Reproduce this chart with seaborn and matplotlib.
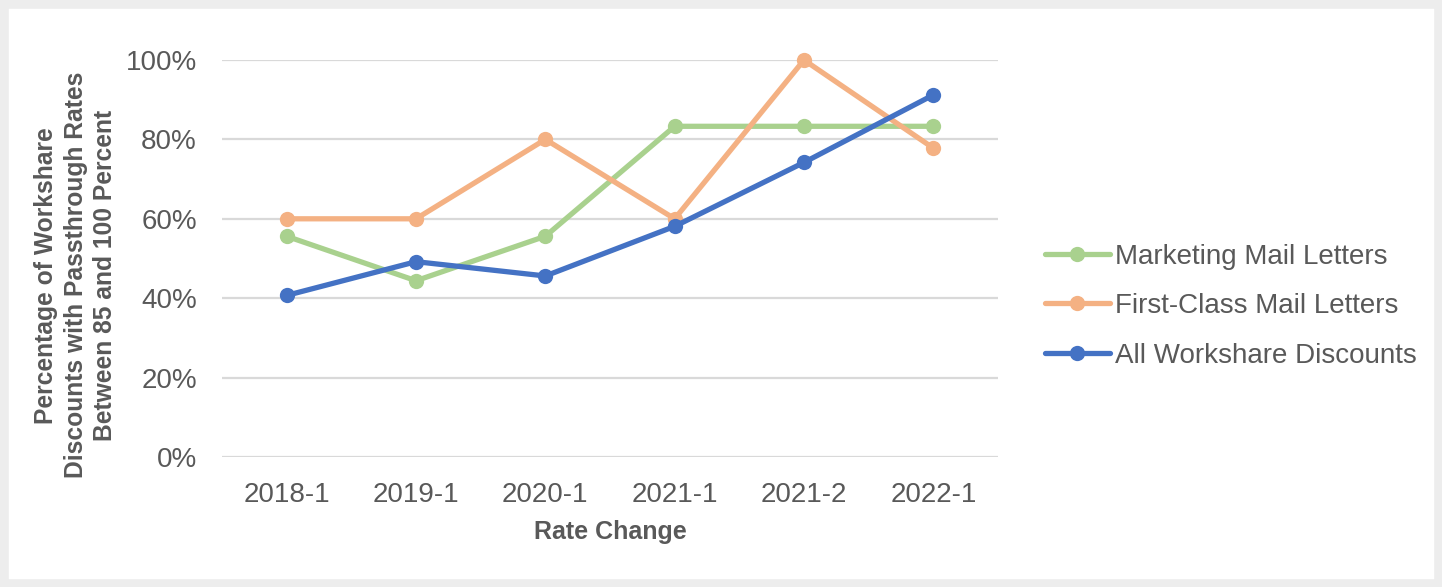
import matplotlib
matplotlib.use("Agg")
import matplotlib.pyplot as plt
import seaborn as sns
import pandas as pd
from matplotlib.patches import Rectangle
from matplotlib.ticker import PercentFormatter

categories = ["2018-1", "2019-1", "2020-1", "2021-1", "2021-2", "2022-1"]
marketing = [0.556, 0.444, 0.556, 0.833, 0.833, 0.833]
first_class = [0.60, 0.60, 0.80, 0.60, 1.00, 0.778]
all_workshare = [0.407, 0.492, 0.456, 0.581, 0.742, 0.912]
series_names = ["Marketing Mail Letters", "First-Class Mail Letters", "All Workshare Discounts"]
colors = ["#A9D18E", "#F4B183", "#4472C4"]

rows = []
for name, vals in zip(series_names, [marketing, first_class, all_workshare]):
    for c, v in zip(categories, vals):
        rows.append({"Rate Change": c, "value": v, "series": name})
df = pd.DataFrame(rows)

sns.set_theme(style="white")
plt.rcParams['font.family'] = ['Liberation Sans', 'DejaVu Sans']

fig = plt.figure(figsize=(14.42, 5.87), dpi=100, facecolor="white")
fig.patches.append(Rectangle((0, 0), 1, 1, transform=fig.transFigure, fill=False,
                             edgecolor="#EDEDED", linewidth=12, zorder=0))
ax = fig.add_axes([222/1442, 1-457/587, (998-222)/1442, (457-60)/587])

sns.lineplot(data=df, x="Rate Change", y="value", hue="series", hue_order=series_names,
             palette=colors, marker="o", markersize=11, markeredgewidth=0,
             linewidth=3.8, sort=False, ax=ax)

ax.set_xlim(-0.5, 5.5)
ax.set_ylim(0, 1.0)
ax.set_yticks([0, 0.2, 0.4, 0.6, 0.8, 1.0])
ax.yaxis.set_major_formatter(PercentFormatter(1.0, decimals=0))
ax.grid(axis="y", color="#D9D9D9", linewidth=1.6)
ax.set_axisbelow(True)
for s in ax.spines.values():
    s.set_visible(False)
ax.tick_params(axis="both", length=0, labelsize=20, labelcolor="#595959")
ax.tick_params(axis="x", pad=18)
ax.tick_params(axis="y", pad=18)
ax.set_xlabel("Rate Change", fontsize=18, fontweight="bold", color="#595959", labelpad=9)
ax.set_ylabel("Percentage of Workshare\nDiscounts with Passthrough Rates\nBetween 85 and 100 Percent",
              fontsize=17.7, fontweight="bold", color="#595959", linespacing=1.3)
ax.yaxis.set_label_coords(-0.135, 0.458)
for ln in ax.lines:
    ln.set_clip_on(False)

leg = ax.legend(loc="center left", bbox_to_anchor=(1.028, 0.380), frameon=False,
                fontsize=20, handlelength=2.34, handletextpad=0.18, labelspacing=0.85)
for t in leg.get_texts():
    t.set_color("#595959")

fig.savefig("out.png", dpi=100, facecolor="white")
